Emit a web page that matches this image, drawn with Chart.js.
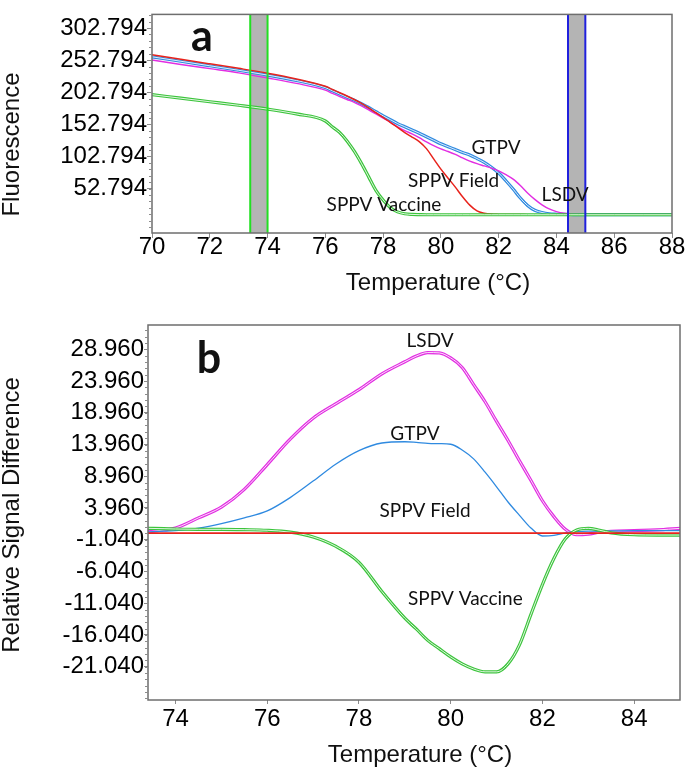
<!DOCTYPE html>
<html><head><meta charset="utf-8">
<script src="https://cdn.jsdelivr.net/npm/chart.js@4/dist/chart.umd.min.js"></script>
<style>
html,body{margin:0;padding:0;background:#fff;}
#wrap{position:relative;width:685px;height:768px;overflow:hidden;background:#fff;}
#ca{position:absolute;left:0;top:0;}
#cb{position:absolute;left:0;top:300px;}
</style></head><body>
<div id="wrap">
<canvas id="ca" width="685" height="300"></canvas>
<canvas id="cb" width="685" height="468"></canvas>
</div>
<script>
// ---------- Panel a : melt curves (Fluorescence) ----------
const tempsA = [70,71,72,73,74,75,76,76.25,76.5,76.75,77,77.25,77.5,77.75,78,78.25,78.5,78.75,79,79.25,79.5,79.75,80,80.25,80.5,80.75,81,81.25,81.5,81.75,82,82.25,82.5,82.75,83,83.25,83.5,83.75,84,84.25,84.5,84.75,85,86,87,88];
const sppvFieldA = [261,254,247,240,232.5,223.5,212,207,202,197,191.5,185.5,178.5,171,163.5,156,148,140,133,126,115,99,83,69,55,40,27,18,14.5,13,12.6,12.4,12.3,12.3,12.2,12.2,12.2,12.2,12.2,12.2,12.2,12.2,12.2,12.2,12.2,12.2];
const gtpvA = [258,251,244,237,229.5,221,210,205,200,195,190.5,185,179,172.5,166,160,154,149,144,139,133.5,128,122.5,118,113.5,109,105,99.5,93.5,86,77,65,52,38,26.5,19,15.5,13.5,12.8,12.5,12.4,12.3,12.3,12.3,12.3,12.3];
const lsdvA = [253,246,239.5,233,225,216.5,206,201,196,191.5,187,181.5,175.5,169,162.5,156,149,143,138,132,125.5,119.5,114.5,110.5,106,100.5,95.5,91.5,88,84.5,80.5,74.5,67.5,57.5,46,36,27.5,21,17,14.3,13.2,12.7,12.5,12.4,12.4,12.4];
const sppvVaccineA = [199,193.5,188,182.5,176.5,169,158,148.5,140,127,111,92,71,50,35,23,16.5,13.5,12.5,12.2,12,12,12,12,12,12,12,12,12,12,12,12,12,12,12,12,12,12,12,12,12,12,12,12,12,12];
const xTicksA = [70,72,74,76,78,80,82,84,86,88];
const yTicksA = [52.794,102.794,152.794,202.794,252.794,302.794];
const bandsA = [[73.4,74.0],[84.4,85.0]];

// ---------- Panel b : difference curves ----------
const tempsB = [73.4,73.75,74,74.5,75,75.5,76,76.5,77,77.5,78,78.5,79,79.25,79.5,79.75,80,80.25,80.5,80.75,81,81.25,81.5,81.75,82,82.25,82.5,82.75,83,83.25,83.5,84,84.5,85];
const lsdvB = [0.2,0.5,0.8,2.4,4.1,6.9,10.8,14.8,18.1,20.4,22.6,25.1,27.0,27.9,28.45,28.4,27.6,26.1,23.4,20.7,17.6,14.6,11.4,8.3,5.1,2.6,0.6,-0.25,-0.15,0.15,0.3,0.4,0.5,0.75];
const gtpvB = [0.2,0.3,0.4,0.8,1.5,2.4,3.5,5.6,8.2,10.9,13.0,14.2,14.4,14.3,14.15,14.1,14.0,13.1,11.7,9.6,7.3,4.9,2.8,0.8,-0.45,-0.35,0.05,0.25,0.3,0.3,0.35,0.4,0.4,0.4];
const sppvVaccineB = [0.75,0.7,0.65,0.6,0.6,0.55,0.45,0.15,-0.6,-2.1,-4.6,-9.2,-13.4,-15.1,-16.9,-18.2,-19.5,-20.6,-21.4,-21.85,-21.85,-20.6,-17.6,-12.8,-8.1,-4.0,-0.9,0.5,0.75,0.45,0.05,-0.25,-0.3,-0.3];
const sppvFieldB = [0,0,0,0,0,0,0,0,0,0,0,0,0,0,0,0,0,0,0,0,0,0,0,0,0,0,0,0,0,0,0,0,0,0];
const xTicksB = [74,76,78,80,82,84];
const yTicksB = [-21.04,-16.04,-11.04,-6.04,-1.04,3.96,8.96,13.96,18.96,23.96,28.96];

// ---------- styling ----------
const FONT_AX = "'Liberation Sans', Arial, sans-serif";
const FONT_LBL = "Lato, 'Open Sans', sans-serif";
const C_RED = '#e8231c', C_BLUE = '#2f8ae0', C_MAG = '#e22ee2', C_GREEN = '#3cc43c';

const pts = (xs, ys) => xs.map((x, i) => ({x: x, y: ys[i]}));
function line(xs, ys, color, w) {
  return {data: pts(xs, ys), borderColor: color, borderWidth: w, pointRadius: 0, fill: false,
          cubicInterpolationMode: 'monotone'};
}
function dbl(xs, ys, color) {
  return [line(xs, ys, color, 3.2), line(xs, ys, 'rgba(255,255,255,0.85)', 1.0)];
}
// Chart.js paints dataset 0 last (on top); list is given bottom-to-top, so reverse it.
const stack = arr => arr.reverse();

function makeDecor(o) {
  return {
    id: 'decor' + o.name,
    beforeDatasetsDraw(chart) {
      const {ctx, chartArea: a, scales: {x}} = chart;
      ctx.save();
      (o.bands || []).forEach(b => {
        const x1 = x.getPixelForValue(b[0]), x2 = x.getPixelForValue(b[1]);
        ctx.fillStyle = '#b4b4b4';
        ctx.fillRect(x1, a.top, x2 - x1, a.bottom - a.top);
      });
      ctx.restore();
    },
    afterDatasetsDraw(chart) {
      const {ctx, chartArea: a, scales: {x, y}} = chart;
      ctx.save();
      (o.bands || []).forEach((b, i) => {
        ctx.strokeStyle = o.bandColors[i]; ctx.lineWidth = 2;
        b.forEach(v => {
          const px = x.getPixelForValue(v);
          ctx.beginPath(); ctx.moveTo(px, a.top); ctx.lineTo(px, a.bottom); ctx.stroke();
        });
      });
      // plot frame
      ctx.strokeStyle = '#6e6e6e'; ctx.lineWidth = 1.5;
      ctx.strokeRect(a.left, a.top, a.right - a.left, a.bottom - a.top);
      // minor ticks on y axis
      ctx.strokeStyle = '#8c8c8c'; ctx.lineWidth = 1;
      for (let v = o.minorStart; v <= y.max; v += o.minorStep) {
        const py = Math.round(y.getPixelForValue(v)) + 0.5;
        if (py < a.top || py > a.bottom) continue;
        ctx.beginPath(); ctx.moveTo(a.left - 3, py); ctx.lineTo(a.left, py); ctx.stroke();
      }
      // curve labels
      ctx.fillStyle = '#111'; ctx.textAlign = 'center'; ctx.textBaseline = 'alphabetic';
      o.labels.forEach(l => {
        ctx.font = l.font;
        ctx.fillText(l.text, x.getPixelForValue(l.x), y.getPixelForValue(l.y));
      });
      // axis titles
      ctx.font = '24px ' + FONT_AX;
      o.titles.forEach(t => {
        ctx.save();
        ctx.translate(t.x, t.y);
        if (t.rot) ctx.rotate(-Math.PI / 2);
        ctx.textAlign = 'center'; ctx.textBaseline = 'alphabetic';
        ctx.fillText(t.text, 0, 0);
        ctx.restore();
      });
      ctx.restore();
    }
  };
}

const LBL = '19px ' + FONT_LBL;
const BIG = 'bold 43px ' + FONT_LBL;

function axisCommon(tickLen, pad) {
  return {
    grid: {display: true, drawOnChartArea: false, drawTicks: true, tickLength: tickLen, tickColor: '#8c8c8c'},
    border: {display: false},
    ticks: {color: '#000', font: {family: FONT_AX, size: 24}, padding: pad, maxRotation: 0, autoSkip: false}
  };
}

// ---------- chart a ----------
const axA_x = axisCommon(5, -5);
axA_x.type = 'linear'; axA_x.min = 70; axA_x.max = 88;
axA_x.afterBuildTicks = s => { s.ticks = xTicksA.map(v => ({value: v})); };
axA_x.afterFit = s => { s.height = 67; };
axA_x.ticks.callback = v => String(v);
const axA_y = axisCommon(5, 0);
axA_y.min = -16.4; axA_y.max = 324;
axA_y.afterBuildTicks = s => { s.ticks = yTicksA.map(v => ({value: v})); };
axA_y.afterFit = s => { s.width = 152; };
axA_y.ticks.callback = v => Number(v).toFixed(3);

new Chart(document.getElementById('ca'), {
  type: 'line',
  data: {datasets: stack([
    ...dbl(tempsA, gtpvA, C_BLUE),
    line(tempsA, lsdvA, C_MAG, 1.4),
    line(tempsA, sppvFieldA, C_RED, 1.5),
    ...dbl(tempsA, sppvVaccineA, C_GREEN)
  ])},
  options: {
    responsive: false, animation: false, devicePixelRatio: 1,
    layout: {padding: {left: 0, top: 4, right: 13, bottom: 0}},
    plugins: {legend: {display: false}, tooltip: {enabled: false}},
    scales: {x: axA_x, y: axA_y}
  },
  plugins: [makeDecor({
    name: 'A', bands: bandsA, bandColors: ['#22e022', '#2020dd'],
    minorStart: -7.206, minorStep: 10,
    labels: [
      {text: 'a', x: 71.73, y: 266.6, font: BIG},
      {text: 'GTPV', x: 81.91, y: 106.2, font: LBL},
      {text: 'SPPV Field', x: 80.44, y: 55.3, font: LBL},
      {text: 'SPPV Vaccine', x: 78.03, y: 17.2, font: LBL},
      {text: 'LSDV', x: 84.30, y: 33.05, font: LBL}
    ],
    titles: [
      {text: 'Fluorescence', x: 18.5, y: 144.5, rot: true},
      {text: 'Temperature (°C)', x: 438, y: 289.5}
    ]
  })]
});

// ---------- chart b ----------
const axB_x = axisCommon(4, 1);
axB_x.type = 'linear'; axB_x.min = 73.4; axB_x.max = 85;
axB_x.afterBuildTicks = s => { s.ticks = xTicksB.map(v => ({value: v})); };
axB_x.afterFit = s => { s.height = 68; };
axB_x.ticks.callback = v => String(v);
const axB_y = axisCommon(4, 0);
axB_y.min = -26.29; axB_y.max = 32.79;
axB_y.afterBuildTicks = s => { s.ticks = yTicksB.map(v => ({value: v})); };
axB_y.afterFit = s => { s.width = 148; };
axB_y.ticks.callback = v => Number(v).toFixed(3);

new Chart(document.getElementById('cb'), {
  type: 'line',
  data: {datasets: stack([
    ...dbl(tempsB, lsdvB, C_MAG),
    line(tempsB, gtpvB, C_BLUE, 1.3),
    ...dbl(tempsB, sppvVaccineB, C_GREEN),
    line(tempsB, sppvFieldB, C_RED, 1.8)
  ])},
  options: {
    responsive: false, animation: false, devicePixelRatio: 1,
    layout: {padding: {left: 0, top: 25, right: 5, bottom: 0}},
    plugins: {legend: {display: false}, tooltip: {enabled: false}},
    scales: {x: axB_x, y: axB_y}
  },
  plugins: [makeDecor({
    name: 'B', bands: [], bandColors: [],
    minorStart: -26.04, minorStep: 1,
    labels: [
      {text: 'b', x: 74.73, y: 25.27, font: BIG},
      {text: 'LSDV', x: 79.55, y: 29.27, font: LBL},
      {text: 'GTPV', x: 79.22, y: 14.67, font: LBL},
      {text: 'SPPV Field', x: 79.44, y: 2.49, font: LBL},
      {text: 'SPPV Vaccine', x: 80.32, y: -11.32, font: LBL}
    ],
    titles: [
      {text: 'Relative Signal Difference', x: 19, y: 215, rot: true},
      {text: 'Temperature (°C)', x: 420, y: 461.5}
    ]
  })]
});
</script>
</body></html>
